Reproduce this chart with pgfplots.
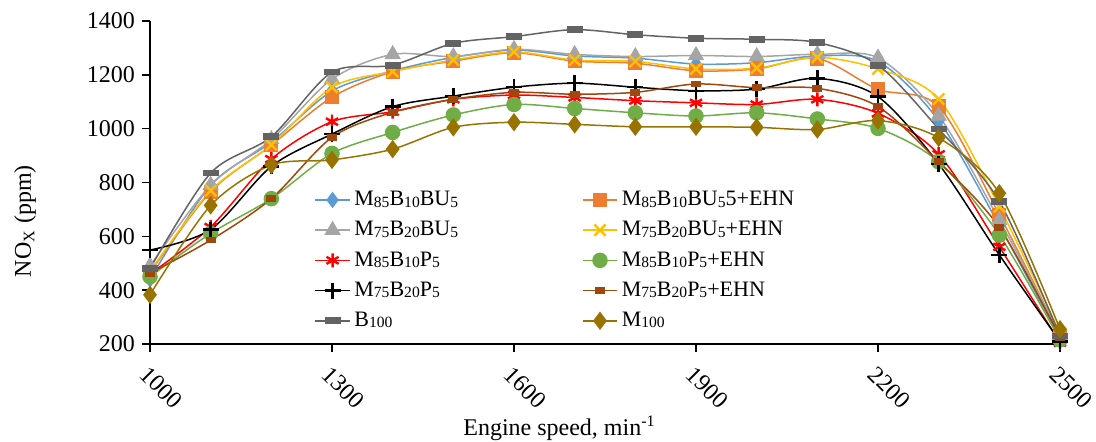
\documentclass[border=0pt]{standalone}
\usepackage{fontspec}
\setmainfont{Liberation Serif}
\usepackage{pgfplots}
\pgfplotsset{compat=1.18}
\definecolor{cblue}{HTML}{5B9BD5}
\definecolor{corange}{HTML}{ED7D31}
\definecolor{cgray}{HTML}{A5A5A5}
\definecolor{cyellow}{HTML}{FFC000}
\definecolor{cgreen}{HTML}{70AD47}
\definecolor{cbrown}{HTML}{9E480E}
\definecolor{cdgray}{HTML}{636363}
\definecolor{colive}{HTML}{997300}
\newcommand{\s}[1]{\raisebox{-0.15ex}{\fontsize{7.8}{9}\selectfont #1}}
\begin{document}
\begin{tikzpicture}
\begin{axis}[
  name=ax,
  scale only axis, width=455pt, height=161.5pt,
  xmin=1000, xmax=2500, ymin=200, ymax=1400,
  xtick={1000,1300,1600,1900,2200,2500},
  ytick={200,400,...,1400},
  axis lines=left, axis line style={-, line width=1pt},
  tick align=outside, major tick length=4pt,
  tick style={black, line width=0.8pt},
  /pgf/number format/1000 sep={},
  /pgf/number format/assume math mode=true,
  ticklabel style={font=\fontsize{12}{14}\selectfont},
  xticklabel style={rotate=-45, anchor=north west, xshift=1pt, yshift=-1pt},
  ylabel={NO\textsubscript{X} (ppm)},
  ylabel style={font=\fontsize{12}{14}\selectfont, at={(axis description cs:0,0.38)}, anchor=center, yshift=62.5pt},
  xlabel={Engine speed, min\textsuperscript{-1}},
  xlabel style={font=\fontsize{12}{14}\selectfont, at={(axis description cs:0.45,0)}, anchor=center, yshift=-42pt},
  clip=false,
  every axis plot/.append style={smooth, tension=0.5, line width=0.75pt},
  legend columns=2,
  legend style={at={(0.174,0.499)}, anchor=north west, draw=none, fill=none,
    font=\fontsize{11}{13}\selectfont, row sep=2.4pt,
    /tikz/every even column/.append style={column sep=60pt}},
  legend cell align=left,
  legend image post style={sharp plot},
]
\addplot[cblue, mark=diamond*, mark size=3.5pt, mark options={fill=cblue, draw=cblue}] coordinates {
(1000,440)(1100,790)(1200,950)(1300,1140)(1400,1215)(1500,1265)(1600,1292)(1700,1270)(1800,1262)(1900,1240)(2000,1245)(2100,1270)(2200,1250)(2300,1030)(2400,640)(2500,220)};
\addlegendentry{M\s{85}B\s{10}BU\s{5}}
\addplot[corange, mark=square*, mark size=3.2pt, mark options={fill=corange, draw=corange}] coordinates {
(1000,465)(1100,766)(1200,939)(1300,1117)(1400,1212)(1500,1251)(1600,1282)(1700,1251)(1800,1243)(1900,1215)(2000,1222)(2100,1261)(2200,1146)(2300,1082)(2400,680)(2500,230)};
\addlegendentry{M\s{85}B\s{10}BU\s{5}5+EHN}
\addplot[cgray, mark=triangle*, mark size=4pt, mark options={fill=cgray, draw=cgray}] coordinates {
(1000,490)(1100,790)(1200,960)(1300,1184)(1400,1276)(1500,1268)(1600,1295)(1700,1276)(1800,1268)(1900,1272)(2000,1268)(2100,1276)(2200,1263)(2300,1048)(2400,660)(2500,235)};
\addlegendentry{M\s{75}B\s{20}BU\s{5}}
\addplot[cyellow, mark=x, mark size=4pt, mark options={draw=cyellow, line width=1.2pt}] coordinates {
(1000,470)(1100,770)(1200,940)(1300,1154)(1400,1212)(1500,1255)(1600,1285)(1700,1255)(1800,1250)(1900,1222)(2000,1225)(2100,1265)(2200,1222)(2300,1110)(2400,710)(2500,240)};
\addlegendentry{M\s{75}B\s{20}BU\s{5}+EHN}
\addplot[red, mark=asterisk, mark size=3.5pt, mark options={draw=red, line width=1.2pt}] coordinates {
(1000,460)(1100,635)(1200,887)(1300,1026)(1400,1063)(1500,1109)(1600,1125)(1700,1116)(1800,1104)(1900,1096)(2000,1090)(2100,1109)(2200,1057)(2300,905)(2400,561)(2500,205)};
\addlegendentry{M\s{85}B\s{10}P\s{5}}
\addplot[cgreen, mark=*, mark size=3.5pt, mark options={fill=cgreen, draw=cgreen}] coordinates {
(1000,450)(1100,611)(1200,740)(1300,908)(1400,986)(1500,1051)(1600,1090)(1700,1075)(1800,1059)(1900,1047)(2000,1059)(2100,1036)(2200,1001)(2300,877)(2400,605)(2500,215)};
\addlegendentry{M\s{85}B\s{10}P\s{5}+EHN}
\addplot[black, mark=+, mark size=4pt, mark options={draw=black, line width=1.2pt}] coordinates {
(1000,549)(1100,625)(1200,860)(1300,980)(1400,1082)(1500,1121)(1600,1154)(1700,1169)(1800,1154)(1900,1141)(2000,1147)(2100,1187)(2200,1119)(2300,869)(2400,531)(2500,210)};
\addlegendentry{M\s{75}B\s{20}P\s{5}}
\addplot[cbrown, mark=square*, mark options={fill=cbrown, draw=cbrown, xscale=1.3, yscale=0.8}, mark size=1.6pt] coordinates {
(1000,463)(1100,586)(1200,740)(1300,968)(1400,1061)(1500,1109)(1600,1135)(1700,1128)(1800,1135)(1900,1166)(2000,1152)(2100,1150)(2200,1082)(2300,877)(2400,633)(2500,225)};
\addlegendentry{M\s{75}B\s{20}P\s{5}+EHN}
\addplot[cdgray, mark=square*, mark options={fill=cdgray, draw=cdgray, xscale=1.4, yscale=0.5}, mark size=2.6pt] coordinates {
(1000,480)(1100,835)(1200,970)(1300,1210)(1400,1236)(1500,1317)(1600,1342)(1700,1368)(1800,1349)(1900,1336)(2000,1332)(2100,1320)(2200,1236)(2300,999)(2400,730)(2500,230)};
\addlegendentry{B\s{100}}
\addplot[colive, mark=diamond*, mark size=4pt, mark options={fill=colive, draw=colive}] coordinates {
(1000,383)(1100,715)(1200,865)(1300,884)(1400,924)(1500,1005)(1600,1024)(1700,1016)(1800,1007)(1900,1007)(2000,1005)(2100,997)(2200,1030)(2300,966)(2400,760)(2500,255)};
\addlegendentry{M\s{100}}
\end{axis}
\pgfresetboundingbox
\useasboundingbox ([xshift=-75pt,yshift=-48.5pt]ax.south west) rectangle ([xshift=18pt,yshift=10.5pt]ax.north east);
\end{tikzpicture}
\end{document}
